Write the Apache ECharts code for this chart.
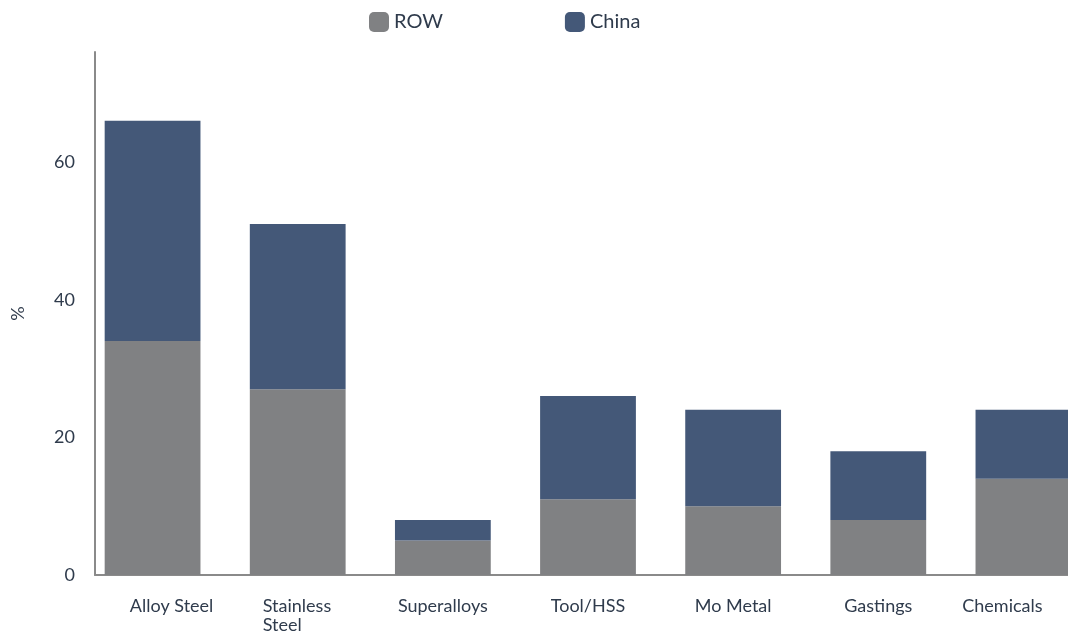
<!DOCTYPE html>
<html>
<head>
<meta charset="utf-8">
<script src="https://cdn.jsdelivr.net/npm/echarts@6/dist/echarts.min.js"></script>
<style>html,body{margin:0;padding:0;background:#fff}#c{width:1068px;height:633px}</style>
</head>
<body>
<div id="c"></div>
<script>
var categories = ['Alloy Steel', 'Stainless Steel', 'Superalloys', 'Tool/HSS', 'Mo Metal', 'Gastings', 'Chemicals'];
var rowValues = [34, 27, 5, 11, 10, 8, 14];
var chinaValues = [32, 24, 3, 15, 14, 10, 10];
var yTicks = [0, 20, 40, 60];

var textColor = '#2f3b4c';
var chart = echarts.init(document.getElementById('c'));
chart.setOption({
  animation: false,
  textStyle: { fontFamily: 'Lato' },
  legend: {
    top: 7, left: 364, itemGap: 122,
    icon: 'roundRect', itemWidth: 20, itemHeight: 20,
    textStyle: { fontSize: 20, color: textColor, fontFamily: 'Lato' },
    data: ['ROW', 'China']
  },
  grid: [
    { left: 80, width: 1016, top: 52, bottom: 58, outerBoundsMode: 'none', containLabel: false },
    { left: 95, right: 0, top: 52, bottom: 58, outerBoundsMode: 'none', containLabel: false }
  ],
  xAxis: [
    {
      type: 'category', gridIndex: 0, data: categories,
      axisLine: { show: false }, axisTick: { show: false },
      axisLabel: {
        interval: 0, margin: 22, color: textColor, fontSize: 18, fontFamily: 'Lato',
        formatter: function (v, i) {
          if (i === 0) return '{a|' + v + '}';
          if (i === categories.length - 1) return '{c|' + v + '}';
          if (v.indexOf(' ') > 0 && v.length > 12) {
            return v.split(' ').map(function (p) { return '{l|' + p + '}'; }).join('\n');
          }
          return v;
        },
        rich: {
          a: { fontSize: 18, color: textColor, fontFamily: 'Lato', padding: [0, 0, 0, 38] },
          c: { fontSize: 18, color: textColor, fontFamily: 'Lato', padding: [0, 42, 0, 0] },
          l: { fontSize: 18, color: textColor, fontFamily: 'Lato', width: 70, align: 'left', lineHeight: 19 }
        }
      }
    },
    {
      type: 'value', gridIndex: 1, min: 0, max: 1,
      axisLine: { show: true, lineStyle: { color: '#8a8a8a', width: 2 } },
      axisTick: { show: false }, axisLabel: { show: false }, splitLine: { show: false }
    }
  ],
  yAxis: [
    {
      type: 'value', gridIndex: 0, min: 0, max: 76, interval: 20,
      axisLine: { show: false }, axisTick: { show: false },
      axisLabel: { show: false }, splitLine: { show: false }
    },
    {
      type: 'value', gridIndex: 1, min: 0, max: 76, interval: 20,
      name: '%', nameLocation: 'middle', nameGap: 68, nameRotate: 90,
      nameTextStyle: { fontSize: 18, color: textColor, fontFamily: 'Lato' },
      axisLine: { show: true, lineStyle: { color: '#8a8a8a', width: 2 } },
      axisTick: { show: false }, splitLine: { show: false },
      axisLabel: {
        margin: 20, fontSize: 18, color: textColor, fontFamily: 'Lato', showMaxLabel: false,
        formatter: function (v) { return yTicks.indexOf(v) >= 0 ? String(v) : ''; }
      }
    }
  ],
  series: [
    { name: 'ROW', type: 'bar', stack: 'total', xAxisIndex: 0, yAxisIndex: 0, barWidth: '66%',
      itemStyle: { color: '#808183' }, data: rowValues },
    { name: 'China', type: 'bar', stack: 'total', xAxisIndex: 0, yAxisIndex: 0, barWidth: '66%',
      itemStyle: { color: '#445878' }, data: chinaValues }
  ]
});
</script>
</body>
</html>
